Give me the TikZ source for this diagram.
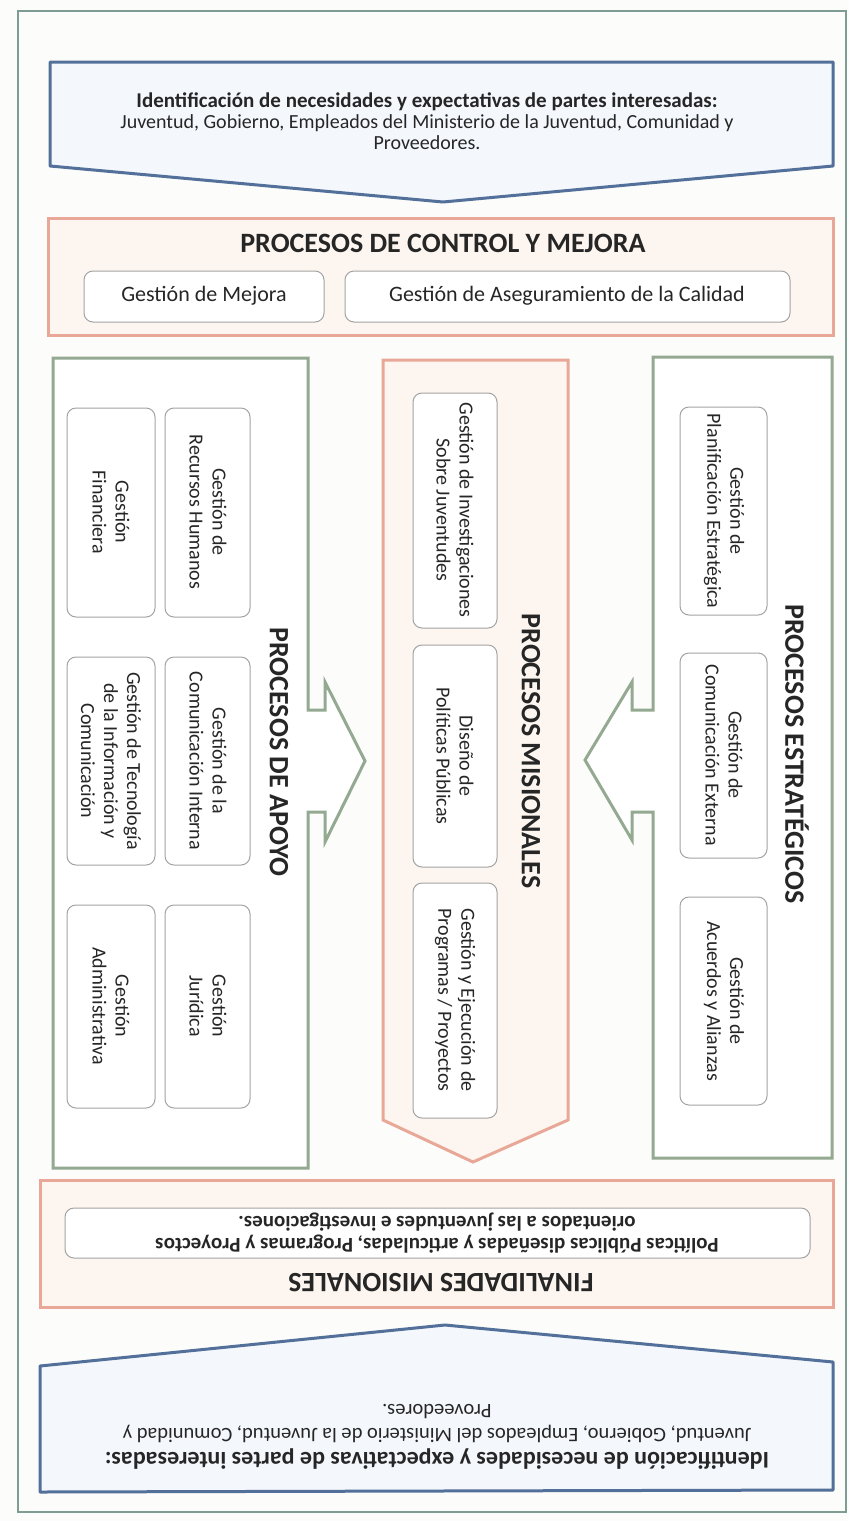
\documentclass[tikz,border=0pt]{standalone}
\usepackage{fontspec}
\setmainfont{Carlito}
\definecolor{marcoverde}{HTML}{7F9C94}
\definecolor{azulborde}{HTML}{52709A}
\definecolor{azulfondo}{HTML}{F4F7FC}
\definecolor{naranjaborde}{HTML}{E9A897}
\definecolor{naranjafondo}{HTML}{FDF6F0}
\definecolor{verdeborde}{HTML}{94A991}
\definecolor{grisborde}{HTML}{A3A3A3}
\definecolor{textogris}{HTML}{262626}
\definecolor{fondo}{HTML}{FCFCFA}
\begin{document}
\begin{tikzpicture}[x=1pt, y=-1pt,
	marco/.style={draw=marcoverde, line width=2.5pt},
	flecha/.style={draw=azulborde, fill=azulfondo, line width=3pt, line join=round},
	naranja/.style={draw=naranjaborde, fill=naranjafondo, line width=3pt},
	verde/.style={draw=verdeborde, fill=white, line width=3pt},
	caja/.style={draw=grisborde, fill=white, line width=1pt, rounded corners=9pt},
	texto/.style={text=textogris, align=center, font=\fontsize{20}{23}\selectfont},
	titulo/.style={text=textogris, font=\bfseries\fontsize{28}{30}\selectfont}]
	% Fondo y marco
	\fill[fondo] (0, 0) rectangle (849, 1521);
	\useasboundingbox (0, 0) rectangle (849, 1521);
	\draw[marco] (18, 11) rectangle (846, 1512);
	% Flecha superior
	\filldraw[flecha] (50, 62) -- (833, 62) -- (833, 166) -- (443, 202) -- (50, 166) -- cycle;
	\node[texto, font=\fontsize{20}{21}\selectfont] (partes) at (427, 121)
		{{\fontsize{21}{21}\selectfont\bfseries Identificación de necesidades y expectativas de partes interesadas:}\\
		Juventud, Gobierno, Empleados del Ministerio de la Juventud, Comunidad y\\
		Proveedores.};
	% Control y mejora
	\filldraw[naranja] (48, 218) rectangle (833, 335);
	\node[titulo] (control) at (443, 243) {PROCESOS DE CONTROL Y MEJORA};
	\filldraw[caja] (84, 271) rectangle (324, 322);
	\node[texto, font=\fontsize{22}{24}\selectfont] (mejora) at (204, 296) {Gestión de Mejora};
	\filldraw[caja] (345, 271) rectangle (790, 322);
	\node[texto, font=\fontsize{22}{24}\selectfont] (calidad) at (567, 296) {Gestión de Aseguramiento de la Calidad};
	% Procesos de apoyo
	\filldraw[verde] (53, 358) -- (308, 358) -- (308, 710) -- (325, 710) -- (325, 682) -- (365, 761)
		-- (325, 842) -- (325, 812) -- (308, 812) -- (308, 1168) -- (53, 1168) -- cycle;
	\node[titulo, rotate=-90] (apoyo) at (279, 752) {PROCESOS DE APOYO};
	\filldraw[caja] (165, 408) rectangle (250, 617);
	\node[texto, rotate=-90] (humanos) at (208, 512) {Gestión de\\Recursos Humanos};
	\filldraw[caja] (67, 408) rectangle (155, 617);
	\node[texto, rotate=-90] (financiera) at (111, 512) {Gestión\\Financiera};
	\filldraw[caja] (165, 657) rectangle (250, 865);
	\node[texto, rotate=-90] (interna) at (208, 761) {Gestión de la\\Comunicación Interna};
	\filldraw[caja] (67, 657) rectangle (155, 865);
	\node[texto, rotate=-90] (tecnologia) at (111, 761) {Gestión de Tecnología\\de la Información y\\Comunicación};
	\filldraw[caja] (165, 905) rectangle (250, 1108);
	\node[texto, rotate=-90] (juridica) at (208, 1006) {Gestión\\Jurídica};
	\filldraw[caja] (67, 905) rectangle (155, 1108);
	\node[texto, rotate=-90] (administrativa) at (111, 1006) {Gestión\\Administrativa};
	% Procesos misionales
	\filldraw[naranja] (383, 360) -- (568, 360) -- (568, 1120) -- (473, 1162) -- (383, 1120) -- cycle;
	\node[titulo, rotate=-90] (misionales) at (531, 751) {PROCESOS MISIONALES};
	\filldraw[caja] (413, 393) rectangle (497, 628);
	\node[texto, rotate=-90] (investigaciones) at (455, 510) {Gestión de Investigaciones\\Sobre Juventudes};
	\filldraw[caja] (413, 645) rectangle (497, 867);
	\node[texto, rotate=-90] (diseno) at (455, 756) {Diseño de\\Políticas Públicas};
	\filldraw[caja] (413, 883) rectangle (497, 1118);
	\node[texto, rotate=-90] (ejecucion) at (455, 1000) {Gestión y Ejecución de\\Programas / Proyectos};
	% Procesos estrategicos
	\filldraw[verde] (653, 357) -- (832, 357) -- (832, 1158) -- (653, 1158) -- (653, 812) -- (632, 812)
		-- (632, 840) -- (585, 760) -- (632, 682) -- (632, 710) -- (653, 710) -- cycle;
	\node[titulo, rotate=-90] (estrategicos) at (797, 754) {PROCESOS ESTRATÉGICOS};
	\filldraw[caja] (680, 407) rectangle (767, 615);
	\node[texto, rotate=-90] (planificacion) at (724, 511) {Gestión de\\Planificación Estratégica};
	\filldraw[caja] (680, 653) rectangle (767, 858);
	\node[texto, rotate=-90] (externa) at (724, 755) {Gestión de\\Comunicación Externa};
	\filldraw[caja] (680, 897) rectangle (767, 1105);
	\node[texto, rotate=-90] (alianzas) at (724, 1001) {Gestión de\\Acuerdos y Alianzas};
	% Finalidades misionales
	\filldraw[naranja] (40, 1180) rectangle (833, 1307);
	\node[titulo, rotate=180] (finalidades) at (441, 1283) {FINALIDADES MISIONALES};
	\filldraw[caja] (65, 1208) rectangle (810, 1258);
	\node[texto, rotate=180, font=\bfseries\fontsize{21}{22}\selectfont] (politicas) at (437, 1233)
		{Políticas Públicas diseñadas y articuladas, Programas y Proyectos\\orientados a las juventudes e investigaciones.};
	% Flecha inferior
	\filldraw[flecha] (40, 1366) -- (445, 1325) -- (833, 1362) -- (833, 1490) -- (40, 1492) -- cycle;
	\node[texto, rotate=180, font=\fontsize{20.5}{24}\selectfont] (partesb) at (437, 1437)
		{{\fontsize{24}{24}\selectfont\bfseries Identificación de necesidades y expectativas de partes interesadas:}\\
		Juventud, Gobierno, Empleados del Ministerio de la Juventud, Comunidad y\\
		Proveedores.};
\end{tikzpicture}
\end{document}
